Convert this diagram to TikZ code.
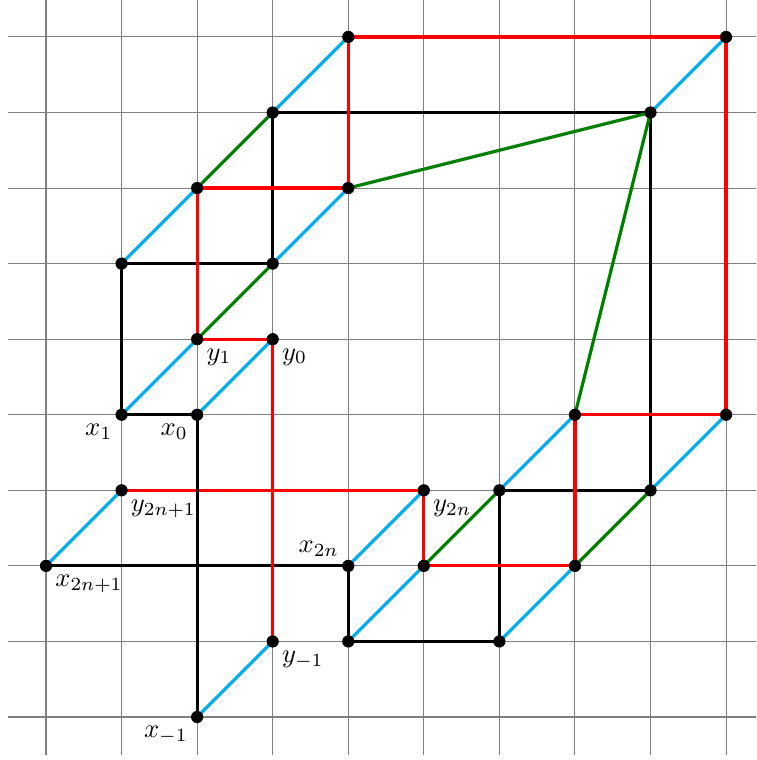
\documentclass[tikz,border=0pt]{standalone}
\usepackage{xcolor}
\definecolor{mycyan}{RGB}{0,174,239}
\definecolor{mygreen}{RGB}{0,128,0}
\begin{document}
\begin{tikzpicture}[x=1cm,y=1cm,
  cy/.style={mycyan,line width=1.2pt},
  gr/.style={mygreen,line width=1.2pt},
  rd/.style={red,line width=1.2pt},
  bk/.style={black,line width=1.2pt},
  dot/.style={fill=black}]
\useasboundingbox (-0.609,-0.569) rectangle (9.397,9.489);
\clip (-0.609,-0.569) rectangle (9.397,9.489);
\draw[gray,line width=0.4pt] (-0.5,-0.5) grid (9.5,9.5);
% coordinates
\coordinate (a49) at (4,9); \coordinate (a99) at (9,9);
\coordinate (a38) at (3,8); \coordinate (a88) at (8,8);
\coordinate (a27) at (2,7); \coordinate (a47) at (4,7);
\coordinate (a16) at (1,6); \coordinate (a36) at (3,6);
\coordinate (y1) at (2,5); \coordinate (y0) at (3,5);
\coordinate (x1) at (1,4); \coordinate (x0) at (2,4);
\coordinate (a74) at (7,4); \coordinate (a94) at (9,4);
\coordinate (y2n1) at (1,3); \coordinate (y2n) at (5,3);
\coordinate (a63) at (6,3); \coordinate (a83) at (8,3);
\coordinate (x2n1) at (0,2); \coordinate (x2n) at (4,2);
\coordinate (a52) at (5,2); \coordinate (a72) at (7,2);
\coordinate (ym1) at (3,1); \coordinate (a41) at (4,1); \coordinate (a61) at (6,1);
\coordinate (xm1) at (2,0);
% red horizontal (under black)
\draw[rd] (y2n1) -- (y2n);
% black
\draw[bk] (a38) -- (a88);
\draw[bk] (a38) -- (a36);
\draw[bk] (a16) -- (a36);
\draw[bk] (a16) -- (x1);
\draw[bk] (x1) -- (x0);
\draw[bk] (x0) -- (xm1);
\draw[bk] (x2n1) -- (x2n);
\draw[bk] (x2n) -- (a41);
\draw[bk] (a41) -- (a61);
\draw[bk] (a61) -- (a63);
\draw[bk] (a63) -- (a83);
\draw[bk] (a83) -- (a88);
% red
\draw[rd] (a49) -- (a99);
\draw[rd] (a49) -- (a47);
\draw[rd] (a27) -- (a47);
\draw[rd] (a27) -- (y1);
\draw[rd] (y1) -- (y0);
\draw[rd] (y0) -- (ym1);
\draw[rd] (a99) -- (a94);
\draw[rd] (a74) -- (a94);
\draw[rd] (a74) -- (a72);
\draw[rd] (a52) -- (a72);
\draw[rd] (y2n) -- (a52);
% cyan
\draw[cy] (a16) -- (a27);
\draw[cy] (a38) -- (a49);
\draw[cy] (a88) -- (a99);
\draw[cy] (a36) -- (a47);
\draw[cy] (x1) -- (y1);
\draw[cy] (x0) -- (y0);
\draw[cy] (x2n1) -- (y2n1);
\draw[cy] (x2n) -- (y2n);
\draw[cy] (a63) -- (a74);
\draw[cy] (a41) -- (a52);
\draw[cy] (a83) -- (a94);
\draw[cy] (a61) -- (a72);
\draw[cy] (xm1) -- (ym1);
% green
\draw[gr] (a27) -- (a38);
\draw[gr] (y1) -- (a36);
\draw[gr] (a52) -- (a63);
\draw[gr] (a72) -- (a83);
\draw[gr] (a47) -- (a88);
\draw[gr] (a74) -- (a88);
% dots
\foreach \p in {a49,a99,a38,a88,a27,a47,a16,a36,y1,y0,x1,x0,a74,a94,y2n1,y2n,a63,a83,x2n1,x2n,a52,a72,ym1,a41,a61,xm1}
  \fill[dot] (\p) circle (2.3pt);
% labels
\node[below left] (lx1) at (x1) {$x_1$};
\node[below left] (lx0) at (x0) {$x_0$};
\node[below right] (ly1) at (y1) {$y_1$};
\node[below right] (ly0) at (y0) {$y_0$};
\node[below right] (ly2n1) at (y2n1) {$y_{2n+1}$};
\node[below right] (ly2n) at (y2n) {$y_{2n}$};
\node[below right] (lx2n1) at (x2n1) {$x_{2n+1}$};
\node[above left] (lx2n) at (x2n) {$x_{2n}$};
\node[below right] (lym1) at (ym1) {$y_{-1}$};
\node[below left] (lxm1) at (xm1) {$x_{-1}$};
\end{tikzpicture}
\end{document}
